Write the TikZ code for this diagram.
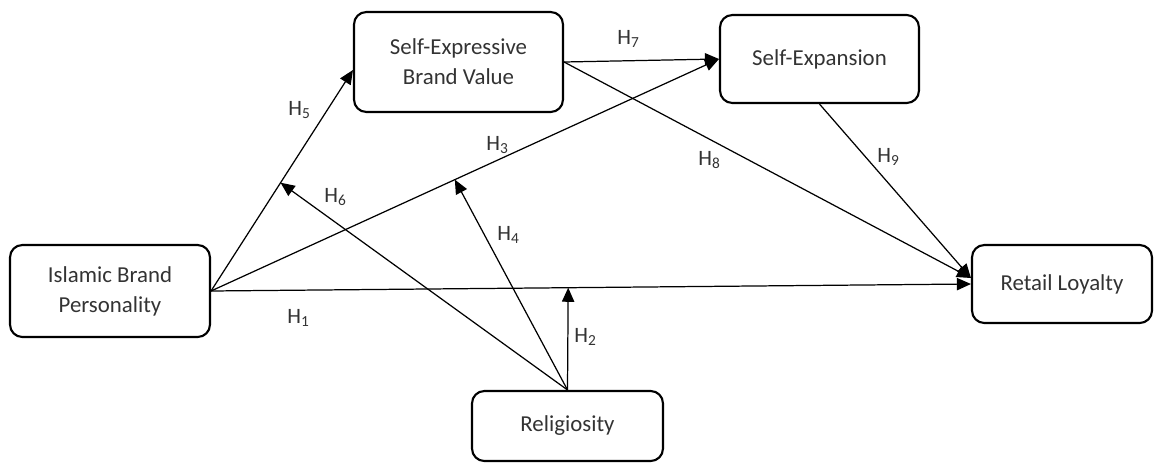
\documentclass[tikz,border=0pt]{standalone}
\usepackage{fontspec}
\setmainfont{Carlito}
\usetikzlibrary{arrows.meta}

\tikzstyle{construct}=[
  draw,
  rounded corners=7pt,
  line width=1.2pt,
  align=center,
  inner sep=0pt,
  text=black!80,
  font=\fontsize{13}{17}\selectfont,
  ]
\tikzstyle{path edge}=[ line width=0.7pt, -{Triangle[length=8pt,width=7pt]} ]
\tikzstyle{hyp}=[ anchor=west, inner sep=0pt, text=black!80, font=\fontsize{12.5}{14}\selectfont ]

\begin{document}
\begin{tikzpicture}[x=0.02cm, y=-0.02cm]
    \useasboundingbox (0,0) rectangle (1154,463);

    \node[construct, minimum width=4cm, minimum height=1.84cm] (ibp) at (110,291) {Islamic Brand\\Personality};
    \node[construct, minimum width=4.18cm, minimum height=2cm] (sebv) at (458.5,62) {Self-Expressive\\Brand Value};
    \node[construct, minimum width=3.98cm, minimum height=1.76cm] (se) at (819.5,59) {Self-Expansion};
    \node[construct, minimum width=3.6cm, minimum height=1.56cm] (rl) at (1062,284) {Retail Loyalty};
    \node[construct, minimum width=3.82cm, minimum height=1.4cm] (rel) at (567.5,426) {Religiosity};

    % direct paths
    \draw[path edge] (ibp.east) -- (rl.west) coordinate[pos=0.47] (m1);
    \draw[path edge] (ibp.east) -- (se.west) coordinate[pos=0.48] (m3);
    \draw[path edge] (ibp.east) -- ([yshift=-0.16cm]sebv.west) coordinate[pos=0.49] (m5);
    \draw[path edge] (sebv.east) -- (se.west);
    \draw[path edge] (sebv.east) -- ([yshift=0.12cm]rl.west);
    \draw[path edge] (se.south) -- ([yshift=0.12cm]rl.west);

    % moderation by religiosity
    \draw[path edge] (rel.north) -- (m1);
    \draw[path edge] (rel.north) -- (m3);
    \draw[path edge] (rel.north) -- (m5);

    \node[hyp] (h1) at (287,318) {H\textsubscript{1}};
    \node[hyp] (h2) at (574,337) {H\textsubscript{2}};
    \node[hyp] (h3) at (486,145) {H\textsubscript{3}};
    \node[hyp] (h4) at (497,235) {H\textsubscript{4}};
    \node[hyp] (h5) at (288,110) {H\textsubscript{5}};
    \node[hyp] (h6) at (324,197) {H\textsubscript{6}};
    \node[hyp] (h7) at (617,39) {H\textsubscript{7}};
    \node[hyp] (h8) at (698,160) {H\textsubscript{8}};
    \node[hyp] (h9) at (877,157) {H\textsubscript{9}};
\end{tikzpicture}
\end{document}
